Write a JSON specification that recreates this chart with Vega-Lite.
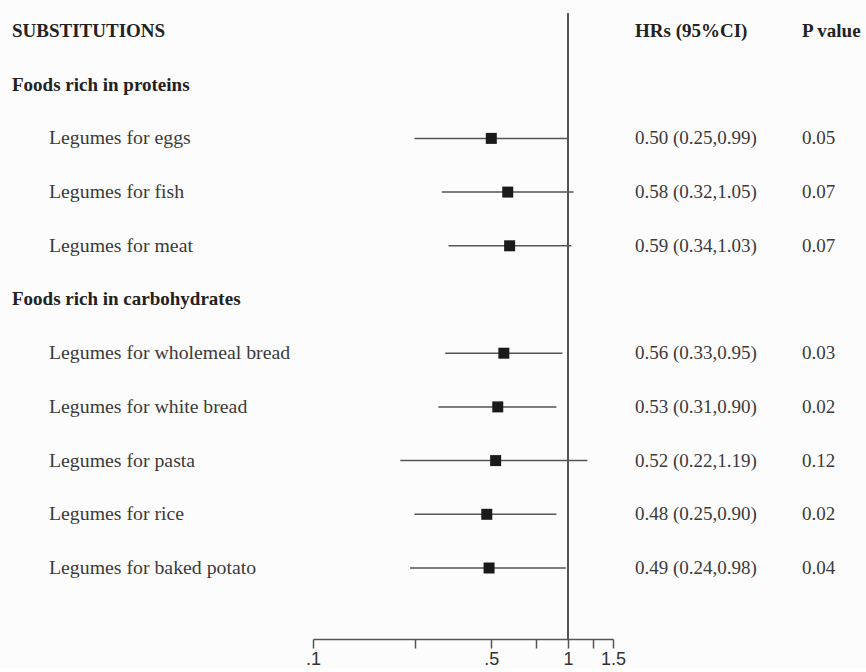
{
  "$schema": "https://vega.github.io/schema/vega-lite/v6.json",
  "background": "#fcfcfc",
  "padding": {"top": 12, "left": 0, "right": 0, "bottom": 0},
  "spacing": 0,
  "bounds": "flush",
  "config": {
    "view": {"stroke": null},
    "text": {"font": "Liberation Serif", "fontSize": 19, "baseline": "middle", "align": "left"}
  },
  "datasets": {
    "rows": [
      {"row": 0, "level": 0, "kind": "header", "label": "SUBSTITUTIONS", "hrci": "HRs (95%CI)", "p": "P value"},
      {"row": 1, "level": 0, "kind": "group", "label": "Foods rich in proteins"},
      {"row": 2, "level": 1, "kind": "item", "label": "Legumes for eggs", "hr": 0.50, "lo": 0.25, "hi": 0.99, "hrci": "0.50 (0.25,0.99)", "p": "0.05"},
      {"row": 3, "level": 1, "kind": "item", "label": "Legumes for fish", "hr": 0.58, "lo": 0.32, "hi": 1.05, "hrci": "0.58 (0.32,1.05)", "p": "0.07"},
      {"row": 4, "level": 1, "kind": "item", "label": "Legumes for meat", "hr": 0.59, "lo": 0.34, "hi": 1.03, "hrci": "0.59 (0.34,1.03)", "p": "0.07"},
      {"row": 5, "level": 0, "kind": "group", "label": "Foods rich in carbohydrates"},
      {"row": 6, "level": 1, "kind": "item", "label": "Legumes for wholemeal bread", "hr": 0.56, "lo": 0.33, "hi": 0.95, "hrci": "0.56 (0.33,0.95)", "p": "0.03"},
      {"row": 7, "level": 1, "kind": "item", "label": "Legumes for white bread", "hr": 0.53, "lo": 0.31, "hi": 0.90, "hrci": "0.53 (0.31,0.90)", "p": "0.02"},
      {"row": 8, "level": 1, "kind": "item", "label": "Legumes for pasta", "hr": 0.52, "lo": 0.22, "hi": 1.19, "hrci": "0.52 (0.22,1.19)", "p": "0.12"},
      {"row": 9, "level": 1, "kind": "item", "label": "Legumes for rice", "hr": 0.48, "lo": 0.25, "hi": 0.90, "hrci": "0.48 (0.25,0.90)", "p": "0.02"},
      {"row": 10, "level": 1, "kind": "item", "label": "Legumes for baked potato", "hr": 0.49, "lo": 0.24, "hi": 0.98, "hrci": "0.49 (0.24,0.98)", "p": "0.04"}
    ]
  },
  "hconcat": [
    {
      "width": 313,
      "height": 626,
      "data": {"name": "rows"},
      "encoding": {
        "y": {"field": "row", "type": "quantitative", "axis": null, "scale": {"domain": [-0.335, 11.322], "reverse": true, "nice": false, "zero": false}},
        "x": {"field": "level", "type": "quantitative", "axis": null, "scale": {"domain": [0, 1], "range": [12, 49], "nice": false, "zero": false}},
        "text": {"field": "label"}
      },
      "layer": [
        {"transform": [{"filter": "datum.level == 0"}], "mark": {"type": "text", "fontWeight": "bold", "color": "#222222"}},
        {"transform": [{"filter": "datum.level == 1"}], "mark": {"type": "text", "color": "#3a3a3a", "fontSize": 19.8}}
      ]
    },
    {
      "width": 300,
      "height": 626,
      "data": {"name": "rows"},
      "layer": [
        {
          "transform": [{"filter": "isValid(datum.hr)"}],
          "mark": {"type": "rule", "color": "#555555", "strokeWidth": 1.5},
          "encoding": {
            "y": {"field": "row", "type": "quantitative", "axis": null, "scale": {"domain": [-0.335, 11.322], "reverse": true, "nice": false, "zero": false}},
            "x": {"field": "lo", "type": "quantitative", "scale": {"type": "log", "domain": [0.1, 1.5], "nice": false}, "axis": {
              "title": null, "grid": false,
              "values": [0.1, 0.25, 0.5, 0.75, 1, 1.25, 1.5],
              "labelExpr": "datum.value == 0.1 ? '.1' : datum.value == 0.5 ? '.5' : datum.value == 1 ? '1' : datum.value == 1.5 ? '1.5' : ''",
              "labelFont": "Liberation Sans", "labelFontSize": 18, "labelColor": "#333333",
              "labelFlush": false, "labelOverlap": false, "labelPadding": 2,
              "domainColor": "#555555", "domainWidth": 1.5, "tickColor": "#555555", "tickWidth": 1.5, "tickSize": 9
            }},
            "x2": {"field": "hi"}
          }
        },
        {
          "transform": [{"filter": "isValid(datum.hr)"}],
          "mark": {"type": "point", "shape": "square", "filled": true, "size": 121, "color": "#1a1a1a", "opacity": 1},
          "encoding": {
            "y": {"field": "row", "type": "quantitative"},
            "x": {"field": "hr", "type": "quantitative"}
          }
        },
        {
          "mark": {"type": "rule", "color": "#555555", "strokeWidth": 1.5},
          "encoding": {"x": {"datum": 1, "type": "quantitative"}}
        }
      ]
    },
    {
      "width": 253,
      "height": 626,
      "data": {"name": "rows"},
      "transform": [
        {"fold": ["hrci", "p"], "as": ["col", "txt"]},
        {"filter": "isValid(datum.txt)"}
      ],
      "encoding": {
        "y": {"field": "row", "type": "quantitative", "axis": null, "scale": {"domain": [-0.335, 11.322], "reverse": true, "nice": false, "zero": false}},
        "x": {"field": "col", "type": "nominal", "axis": null, "scale": {"type": "point", "domain": ["hrci", "p"], "range": [22, 189], "padding": 0}},
        "text": {"field": "txt"}
      },
      "layer": [
        {"transform": [{"filter": "datum.kind == 'header'"}], "mark": {"type": "text", "fontWeight": "bold", "color": "#222222"}},
        {"transform": [{"filter": "datum.kind != 'header'"}], "mark": {"type": "text", "color": "#3a3a3a"}}
      ]
    }
  ]
}
